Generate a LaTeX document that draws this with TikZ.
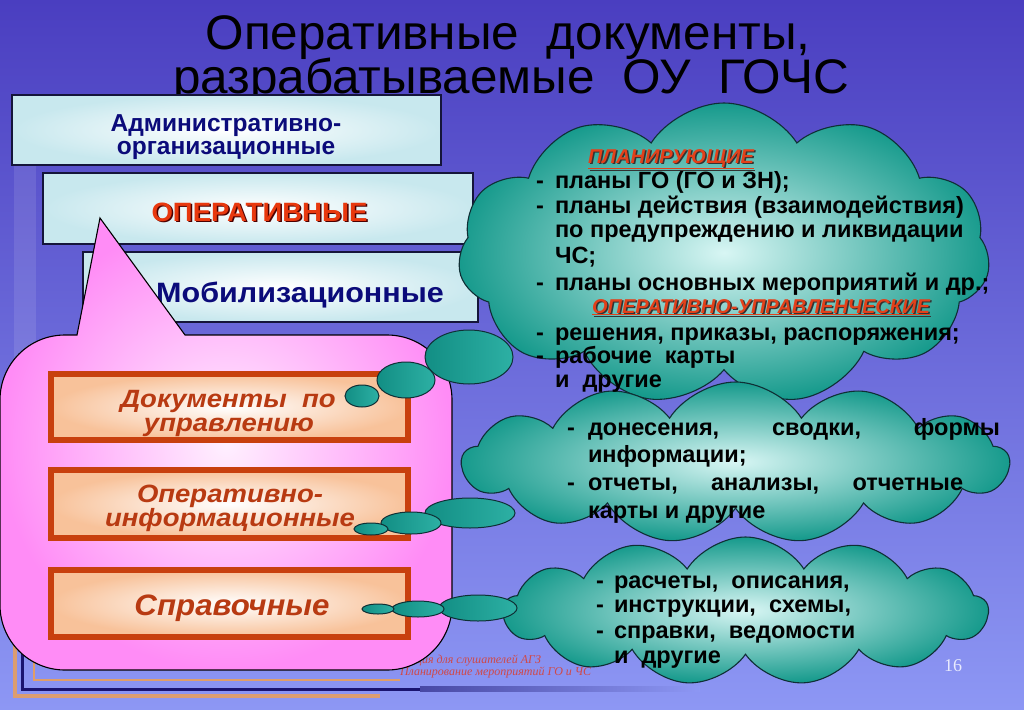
\documentclass[tikz,border=0pt]{standalone}
\usepackage{fontspec}
\setmainfont{Liberation Sans}
\newfontfamily\footserif{Liberation Serif}
\usetikzlibrary{shapes.symbols,shapes.geometric}
\definecolor{bgtop}{HTML}{4A3EC0}
\definecolor{bgmid}{HTML}{6A69D9}
\definecolor{bgbot}{HTML}{8D97F4}
\definecolor{navytext}{HTML}{0B0B7A}
\definecolor{boxedge}{HTML}{15153A}
\definecolor{boxfill}{HTML}{C8E8EE}
\definecolor{redtxt}{HTML}{E8380E}
\definecolor{pinkout}{HTML}{FF8CF6}
\definecolor{pinkin}{HTML}{FFF0FF}
\definecolor{oedge}{HTML}{C8400E}
\definecolor{ofill}{HTML}{F8C29A}
\definecolor{otext}{HTML}{B83A12}
\definecolor{cloudout}{HTML}{169A8C}
\definecolor{cloudin}{HTML}{D8F6F4}
\definecolor{cloudedge}{HTML}{0F2F35}
\definecolor{bubL}{HTML}{128E84}
\definecolor{bubR}{HTML}{2DB0A4}
\definecolor{hdred}{HTML}{E2401A}
\definecolor{footred}{HTML}{D04848}
\definecolor{framenavy}{HTML}{1A1470}
\definecolor{frameorange}{HTML}{F0A050}
\begin{document}
\begin{tikzpicture}[x=1pt,y=-1pt,
  every node/.style={inner sep=0pt,outer sep=0pt},
  topbox/.style={draw=boxedge,line width=1.2pt,inner color=white,outer color=boxfill},
  obox/.style={draw=oedge,line width=6pt,inner color=white,outer color=ofill},
  cloudst/.style={cloud,draw=cloudedge,line width=1.1pt,inner color=cloudin,outer color=cloudout,cloud puffs=11,cloud puff arc=115},
  bubble/.style={ellipse,draw=cloudedge,line width=1pt,left color=bubL,right color=bubR},
  ct/.style={anchor=base west,font=\fontsize{23.5}{23.5}\selectfont\bfseries},
  hd/.style={anchor=base,font=\fontsize{20}{20}\selectfont\bfseries\itshape},
  ttl/.style={anchor=base,font=\fontsize{48.5}{48.5}\selectfont},
  ntext/.style={anchor=base,text=navytext,font=\fontsize{24.5}{24.5}\selectfont\bfseries},
  otx/.style={anchor=base,text=otext,font=\fontsize{25}{25}\selectfont\bfseries\itshape}]
\useasboundingbox (0,0) rectangle (1024,709);
% background
\shade[top color=bgtop,middle color=bgmid,bottom color=bgbot] (0,0) rectangle (1024,709);
\fill[white,opacity=0.10] (14,100) rectangle (36,650);
% bottom-left frame
\draw[frameorange,line width=4pt,opacity=0.8] (15,640) -- (15,696) -- (380,696);
\draw[framenavy,line width=3pt] (22,645) -- (22,689) -- (420,689);
\draw[frameorange,line width=2.5pt,opacity=0.85] (34,650) -- (34,680) -- (400,680);
\shade[left color=framenavy!60!bgbot,right color=bgbot] (420,686) rectangle (700,691);
% title
\node[ttl] (t1) at (508,49) {\scalebox{1.02}[1]{Оперативные\ \ документы,}};
\node[ttl] (t2) at (511,93) {\scalebox{1.02}[1]{разрабатываемые\ \ ОУ\ \ ГОЧС}};
% footer
\node[anchor=base west,text=footred,font=\fontsize{12}{12}\selectfont\footserif\itshape] (f1) at (416,663) {ция для слушателей АГЗ};
\node[anchor=base west,text=footred,font=\fontsize{12}{12}\selectfont\footserif\itshape] (f2) at (400,675) {Планирование мероприятий ГО и ЧС};
\node[anchor=base,text=white!80!bgbot,font=\fontsize{18}{18}\selectfont\footserif] (pg) at (953,671) {16};
% top boxes
\node[topbox,minimum width=429pt,minimum height=70pt] (b1) at (226.5,130) {};
\node[ntext] (b1t) at (226,131) {Административно-};
\node[ntext] (b1u) at (226,154) {организационные};
\node[topbox,minimum width=430pt,minimum height=71pt] (b2) at (258,208.5) {};
\node[anchor=base,text=black!70!red,font=\fontsize{26.5}{26.5}\selectfont\bfseries] at (261,222.5) {\scalebox{1.04}[1]{ОПЕРАТИВНЫЕ}};
\node[anchor=base,text=redtxt,font=\fontsize{26.5}{26.5}\selectfont\bfseries] (b2t) at (259.5,221) {\scalebox{1.04}[1]{ОПЕРАТИВНЫЕ}};
\node[topbox,minimum width=395pt,minimum height=70pt] (b3) at (280.5,287) {};
\node[ntext,font=\fontsize{28}{28}\selectfont\bfseries] (b3t) at (300,302) {\scalebox{1.09}[1]{Мобилизационные}};
% pink callout
\path[draw=black,line width=1.1pt,inner color=pinkin,outer color=pinkout]
  (185,335) -- (387,335) .. controls (423,335) and (452,364) .. (452,400)
  -- (452,605) .. controls (452,641) and (423,670) .. (387,670)
  -- (65,670) .. controls (29,670) and (0,641) .. (0,605)
  -- (0,400) .. controls (0,364) and (29,335) .. (65,335)
  -- (77,335) -- (100,218) -- cycle;
% orange boxes
\node[obox,minimum width=357pt,minimum height=66pt] (o1) at (229.5,407) {};
\node[otx] (o1a) at (228,407) {\scalebox{1.1}[1]{Документы\ \ по}};
\node[otx] (o1b) at (229,431) {\scalebox{1.1}[1]{управлению}};
\node[obox,minimum width=357pt,minimum height=68pt] (o2) at (229.5,504) {};
\node[otx] (o2a) at (230,502) {\scalebox{1.1}[1]{Оперативно-}};
\node[otx] (o2b) at (230,526) {\scalebox{1.1}[1]{информационные}};
\node[obox,minimum width=357pt,minimum height=67pt] (o3) at (229.5,603.5) {};
\node[otx,font=\fontsize{29.5}{29.5}\selectfont\bfseries\itshape] (o3a) at (232,615) {\scalebox{1.06}[1]{Справочные}};
% clouds
\node[cloudst,aspect=1.76,minimum width=532pt,minimum height=302pt] (c1) at (724,254) {};
\node[cloudst,aspect=3.4,minimum width=547pt,minimum height=161pt,cloud puffs=13] (c2) at (735.5,462.5) {};
\node[cloudst,aspect=3.3,minimum width=485pt,minimum height=148pt,cloud puffs=13] (c3) at (745.5,611) {};
% cloud 1 text
\node[hd,text=black!80] at (672.5,164.5) {\underline{ПЛАНИРУЮЩИЕ}};
\node[hd,text=hdred] (h1) at (671,163) {\underline{ПЛАНИРУЮЩИЕ}};
\node[hd,text=black!80] at (762.5,314.5) {\underline{ОПЕРАТИВНО-УПРАВЛЕНЧЕСКИЕ}};
\node[hd,text=hdred] (h2) at (761,313) {\underline{ОПЕРАТИВНО-УПРАВЛЕНЧЕСКИЕ}};
\node[ct] (d1) at (536,188) {-};
\node[ct] (l1) at (555,188) {планы ГО (ГО и ЗН);};
\node[ct] (d2) at (536,213) {-};
\node[ct] (l2) at (555,213) {планы действия (взаимодействия)};
\node[ct] (l3) at (555,237) {по предупреждению и ликвидации};
\node[ct] (l4) at (555,263) {ЧС;};
\node[ct] (d5) at (536,290) {-};
\node[ct] (l5) at (555,290) {планы основных мероприятий и др.;};
\node[ct] (d6) at (536,340) {-};
\node[ct] (l6) at (555,340) {решения, приказы, распоряжения;};
\node[ct] (d7) at (536,363) {-};
\node[ct] (l7) at (555,363) {рабочие\ \ карты};
\node[ct] (l8) at (555,387) {и\ \ другие};
% cloud 2 text
\node[ct] (e1) at (567,435) {-};
\node[ct] (m1) at (588,435) {\makebox[412pt][s]{донесения, сводки, формы}};
\node[ct] (m2) at (588,462) {информации;};
\node[ct] (e3) at (567,490) {-};
\node[ct] (m3) at (588,490) {\makebox[375pt][s]{отчеты, анализы, отчетные}};
\node[ct] (m4) at (588,518) {карты и другие};
% cloud 3 text
\node[ct] (g1) at (596,588) {-};
\node[ct] (n1) at (614,588) {расчеты,\ \ описания,};
\node[ct] (g2) at (596,612) {-};
\node[ct] (n2) at (614,612) {инструкции,\ \ схемы,};
\node[ct] (g3) at (596,638) {-};
\node[ct] (n3) at (614,638) {справки,\ \ ведомости};
\node[ct] (n4) at (614,663) {и\ \ другие};
% thought bubbles
\node[bubble,minimum width=88pt,minimum height=54pt] (p1c) at (469,357) {};
\node[bubble,minimum width=58pt,minimum height=36pt] (p1b) at (406,380) {};
\node[bubble,minimum width=34pt,minimum height=22pt] (p1a) at (362,396) {};
\node[bubble,minimum width=90pt,minimum height=30pt] (p2c) at (470,513) {};
\node[bubble,minimum width=60pt,minimum height=22pt] (p2b) at (411,523) {};
\node[bubble,minimum width=34pt,minimum height=12pt] (p2a) at (371,529) {};
\node[bubble,minimum width=78pt,minimum height=26pt] (p3c) at (478,608) {};
\node[bubble,minimum width=52pt,minimum height=16pt] (p3b) at (418,609) {};
\node[bubble,minimum width=32pt,minimum height=10pt] (p3a) at (378,609) {};
\end{tikzpicture}
\end{document}
